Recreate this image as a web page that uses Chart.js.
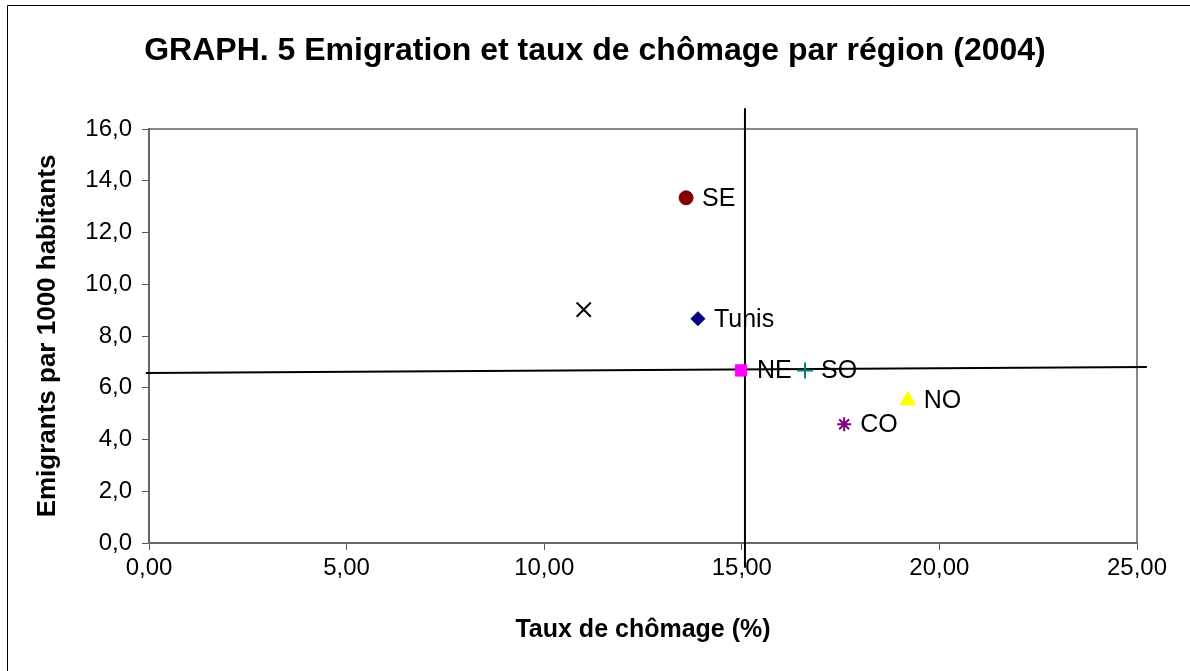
<!DOCTYPE html>
<html>
<head>
<meta charset="utf-8">
<script src="https://cdn.jsdelivr.net/npm/chart.js@4.4.1/dist/chart.umd.min.js"></script>
<style>
html,body{margin:0;padding:0;background:#fff;}
#wrap{position:relative;width:1190px;height:671px;}
</style>
</head>
<body>
<div id="wrap"><canvas id="c" width="1190" height="671"></canvas></div>
<script>
const regions = ['SE', '', 'Tunis', 'NE', 'SO', 'CO', 'NO'];
const unemployment = [13.59, 11.0, 13.89, 14.98, 16.6, 17.59, 19.2];
const emigrants = [13.34, 9.02, 8.67, 6.67, 6.67, 4.59, 5.51];
const pointStyles = ['circle', 'crossRot', 'rectRot', 'rect', 'cross', 'star', 'triangle'];
const colors = ['#800000', '#000000', '#000080', '#FF00FF', '#008080', '#800080', '#FFFF00'];
const vLineX = [15.08, 15.08];
const vLineY = [16.8, -0.96];
const hLineX = [-0.08, 25.25];
const hLineY = [6.57, 6.8];
const xTicks = [0, 5, 10, 15, 20, 25];
const yTicks = [0, 2, 4, 6, 8, 10, 12, 14, 16];

const FONT = 'Arial, "Liberation Sans", sans-serif';

function radiusFor(s) {
  if (s === 'triangle') return 9;
  if (s === 'rect') return 8;
  if (s === 'crossRot') return 10;
  if (s === 'cross') return 8;
  return 7;
}

const datasets = regions.map((r, i) => ({
  label: r,
  data: [{x: unemployment[i], y: emigrants[i]}],
  pointStyle: pointStyles[i],
  backgroundColor: colors[i],
  borderColor: colors[i],
  borderWidth: (pointStyles[i] === 'crossRot' || pointStyles[i] === 'cross' || pointStyles[i] === 'star') ? 2 : 1,
  pointRadius: radiusFor(pointStyles[i]),
  showLine: false,
  order: 1
}));

datasets.push({
  label: 'vline',
  data: vLineX.map((x, i) => ({x: x, y: vLineY[i]})),
  showLine: true, borderColor: '#000', borderWidth: 2, pointRadius: 0,
  clip: false, order: 2
});
datasets.push({
  label: 'hline',
  data: hLineX.map((x, i) => ({x: x, y: hLineY[i]})),
  showLine: true, borderColor: '#000', borderWidth: 2, pointRadius: 0,
  clip: false, order: 2
});

const decor = {
  id: 'decor',
  beforeDraw(chart) {
    const ctx = chart.ctx;
    ctx.save();
    ctx.fillStyle = '#fff';
    ctx.fillRect(0, 0, chart.width, chart.height);
    ctx.strokeStyle = '#000';
    ctx.lineWidth = 1;
    ctx.beginPath();
    ctx.moveTo(7.5, 671); ctx.lineTo(7.5, 5.5); ctx.lineTo(1190, 5.5);
    ctx.stroke();
    const a = chart.chartArea;
    ctx.strokeStyle = '#888';
    ctx.lineWidth = 2;
    ctx.strokeRect(a.left, a.top, a.right - a.left, a.bottom - a.top);
    ctx.restore();
  },
  afterDraw(chart) {
    const ctx = chart.ctx;
    const a = chart.chartArea;
    ctx.save();
    ctx.fillStyle = '#000';
    ctx.textAlign = 'center';
    ctx.textBaseline = 'middle';
    ctx.font = 'bold 32px ' + FONT;
    ctx.fillText('GRAPH. 5 Emigration et taux de chômage par région (2004)', 595, 51);
    ctx.font = 'bold 25px ' + FONT;
    ctx.fillText('Taux de chômage (%)', (a.left + a.right) / 2, 630);
    ctx.font = 'bold 26px ' + FONT;
    ctx.save();
    ctx.translate(48, (a.top + a.bottom) / 2);
    ctx.rotate(-Math.PI / 2);
    ctx.fillText('Emigrants par 1000 habitants', 0, 0);
    ctx.restore();
    // data labels
    ctx.font = '25px ' + FONT;
    ctx.textAlign = 'left';
    const xs = chart.scales.x, ys = chart.scales.y;
    regions.forEach((r, i) => {
      if (!r) return;
      ctx.fillText(r, xs.getPixelForValue(unemployment[i]) + 16, ys.getPixelForValue(emigrants[i]) + 1);
    });
    ctx.restore();
  }
};

new Chart(document.getElementById('c'), {
  type: 'scatter',
  data: { datasets: datasets },
  options: {
    responsive: false,
    animation: false,
    devicePixelRatio: 1,
    layout: { padding: { left: 70, right: 53, top: 129, bottom: 68 } },
    plugins: { legend: { display: false }, tooltip: { enabled: false }, title: { display: false } },
    scales: {
      x: {
        type: 'linear', min: 0, max: 25,
        afterFit(s) { s.height = 60; },
        afterBuildTicks(s) { s.ticks = xTicks.map(v => ({value: v})); },
        ticks: {
          color: '#000', font: { size: 24, family: FONT }, padding: 4,
          maxRotation: 0, autoSkip: false,
          callback: v => v.toFixed(2).replace('.', ',')
        },
        grid: { drawOnChartArea: false, tickLength: 7, color: '#555', tickWidth: 1 },
        border: { color: '#666', width: 2 }
      },
      y: {
        type: 'linear', min: 0, max: 16,
        afterFit(s) { s.width = 79; },
        afterBuildTicks(s) { s.ticks = yTicks.map(v => ({value: v})); },
        ticks: {
          color: '#000', font: { size: 24, family: FONT }, padding: 10, autoSkip: false,
          callback: v => v.toFixed(1).replace('.', ',')
        },
        grid: { drawOnChartArea: false, tickLength: 7, color: '#555', tickWidth: 1 },
        border: { color: '#666', width: 2 }
      }
    }
  },
  plugins: [decor]
});
</script>
</body>
</html>
